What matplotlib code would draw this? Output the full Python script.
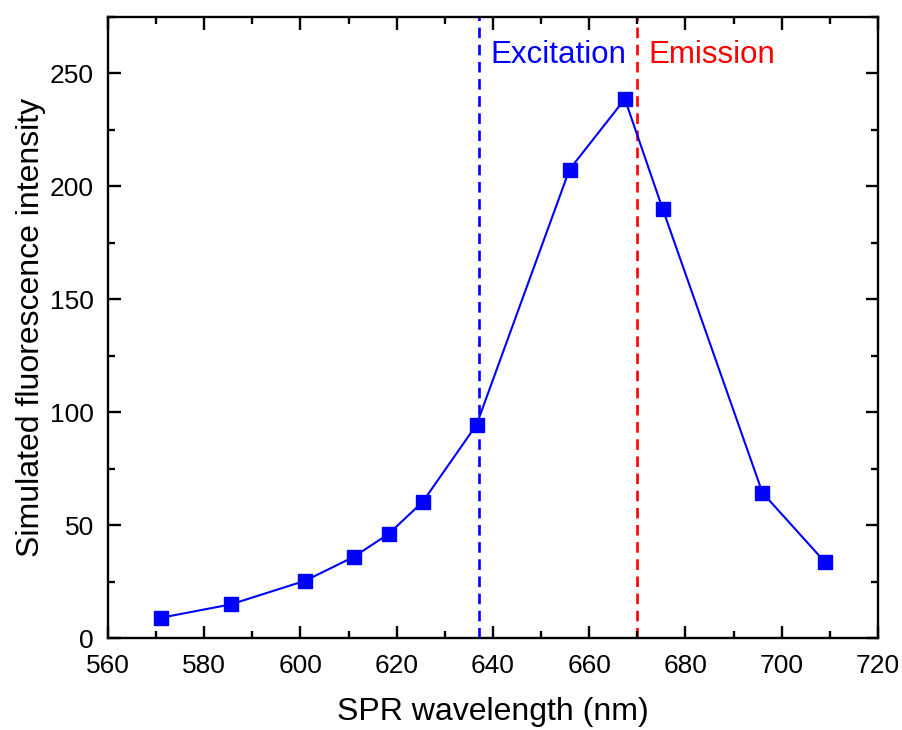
import matplotlib
matplotlib.use("Agg")
import matplotlib.pyplot as plt
from matplotlib.ticker import MultipleLocator

plt.rcParams['font.family'] = ['Liberation Sans', 'DejaVu Sans']

wavelength = [571.0, 585.5, 601.0, 611.1, 618.3, 625.4, 636.6, 655.9, 667.4, 675.3, 696.0, 709.0]
intensity = [9.1, 15.0, 25.5, 36.1, 46.2, 60.4, 94.6, 207.5, 238.7, 189.8, 64.4, 33.7]
excitation_nm = 637.0
emission_nm = 670.0

fig = plt.figure(figsize=(9.03, 7.30), dpi=100)
ax = fig.add_axes([0.1196, 0.1256, 0.8527, 0.8511])

ax.axvline(excitation_nm, color='#0000ff', linestyle=(0, (4, 2.5)), linewidth=1.9, zorder=1)
ax.axvline(emission_nm, color='#ff0000', linestyle=(0, (4, 2.5)), linewidth=1.9, zorder=1)
ax.plot(wavelength, intensity, color='#0000ff', linewidth=1.5, marker='s', markersize=9.5,
        markerfacecolor='#0000ff', markeredgecolor='#0000ff', zorder=3)

ax.text(excitation_nm + 2.5, 254.5, 'Excitation', color='#0000ff', fontsize=22.5,
        ha='left', va='baseline')
ax.text(emission_nm + 2.3, 254.5, 'Emission', color='#ff0000', fontsize=22.5,
        ha='left', va='baseline')

ax.set_xlim(560, 720)
ax.set_ylim(0, 275)
ax.xaxis.set_major_locator(MultipleLocator(20))
ax.xaxis.set_minor_locator(MultipleLocator(10))
ax.yaxis.set_major_locator(MultipleLocator(50))
ax.yaxis.set_minor_locator(MultipleLocator(25))

ax.tick_params(which='both', direction='in', top=True, right=True, width=1.7, labelsize=19)
ax.tick_params(which='major', length=9)
ax.tick_params(which='minor', length=5)
ax.tick_params(axis='x', which='major', pad=11)
ax.tick_params(axis='y', which='major', pad=10)
for s in ax.spines.values():
    s.set_linewidth(1.7)

ax.set_xlabel('SPR wavelength (nm)', fontsize=23, labelpad=14)
ax.set_ylabel('Simulated fluorescence intensity', fontsize=23, labelpad=3)

fig.savefig('out.png', dpi=100)
